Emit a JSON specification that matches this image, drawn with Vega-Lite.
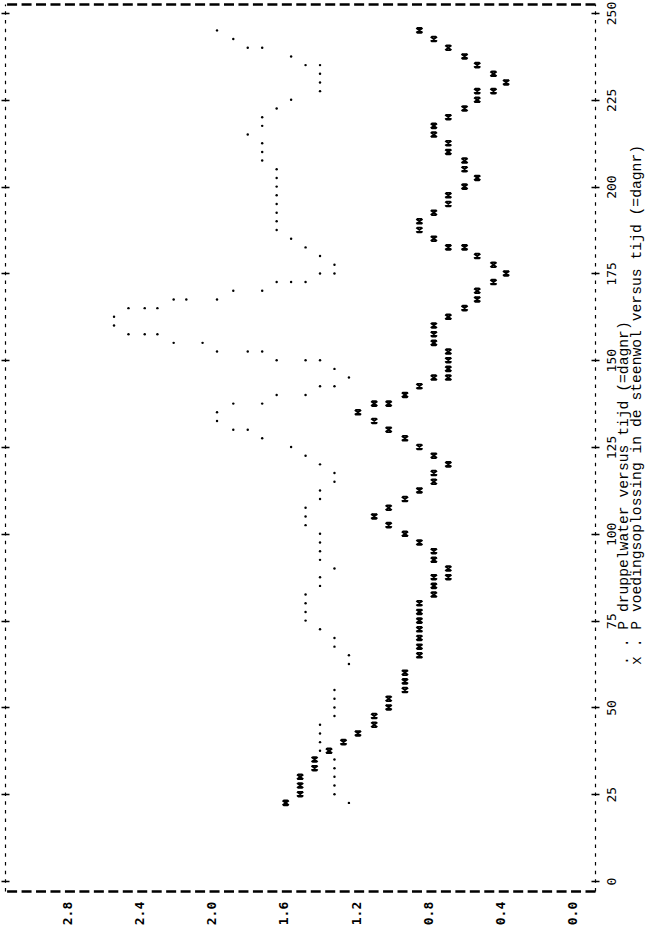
{
  "$schema": "https://vega.github.io/schema/vega-lite/v6.json",
  "width": 590,
  "height": 887,
  "autosize": {"type": "none"},
  "padding": {"left": 5, "top": 4, "right": 51, "bottom": 51},
  "background": "white",
  "config": {"view": {"stroke": null}, "font": "DejaVu Sans Mono"},
  "datasets": {
    "druppelwater": [
      {"dagnr": 22.5, "P": 1.24}, {"dagnr": 25, "P": 1.32}, {"dagnr": 27.5, "P": 1.32}, {"dagnr": 30, "P": 1.32},
      {"dagnr": 32.5, "P": 1.32}, {"dagnr": 35, "P": 1.32}, {"dagnr": 37.5, "P": 1.40}, {"dagnr": 40, "P": 1.40},
      {"dagnr": 42.5, "P": 1.40}, {"dagnr": 45, "P": 1.40}, {"dagnr": 47.5, "P": 1.32}, {"dagnr": 50, "P": 1.32},
      {"dagnr": 52.5, "P": 1.32}, {"dagnr": 55, "P": 1.32}, {"dagnr": 62.5, "P": 1.24}, {"dagnr": 65, "P": 1.24},
      {"dagnr": 67.5, "P": 1.32}, {"dagnr": 70, "P": 1.32}, {"dagnr": 72.5, "P": 1.40}, {"dagnr": 75, "P": 1.48},
      {"dagnr": 77.5, "P": 1.48}, {"dagnr": 80, "P": 1.48}, {"dagnr": 82.5, "P": 1.48}, {"dagnr": 85, "P": 1.40},
      {"dagnr": 87.5, "P": 1.40}, {"dagnr": 90, "P": 1.32}, {"dagnr": 92.5, "P": 1.40}, {"dagnr": 95, "P": 1.40},
      {"dagnr": 97.5, "P": 1.40}, {"dagnr": 100, "P": 1.40}, {"dagnr": 102.5, "P": 1.48}, {"dagnr": 105, "P": 1.48},
      {"dagnr": 107.5, "P": 1.48}, {"dagnr": 110, "P": 1.40}, {"dagnr": 112.5, "P": 1.40}, {"dagnr": 115, "P": 1.32},
      {"dagnr": 117.5, "P": 1.32}, {"dagnr": 120, "P": 1.40}, {"dagnr": 122.5, "P": 1.48}, {"dagnr": 125, "P": 1.56},
      {"dagnr": 127.5, "P": 1.72}, {"dagnr": 130, "P": 1.88}, {"dagnr": 130, "P": 1.80}, {"dagnr": 132.5, "P": 1.97},
      {"dagnr": 135, "P": 1.97}, {"dagnr": 137.5, "P": 1.88}, {"dagnr": 137.5, "P": 1.72}, {"dagnr": 140, "P": 1.64},
      {"dagnr": 140, "P": 1.48}, {"dagnr": 142.5, "P": 1.40}, {"dagnr": 142.5, "P": 1.32}, {"dagnr": 145, "P": 1.24},
      {"dagnr": 147.5, "P": 1.32}, {"dagnr": 150, "P": 1.64}, {"dagnr": 150, "P": 1.48}, {"dagnr": 150, "P": 1.40},
      {"dagnr": 152.5, "P": 1.97}, {"dagnr": 152.5, "P": 1.80}, {"dagnr": 152.5, "P": 1.72}, {"dagnr": 155, "P": 2.21},
      {"dagnr": 155, "P": 2.05}, {"dagnr": 157.5, "P": 2.46}, {"dagnr": 157.5, "P": 2.37}, {"dagnr": 157.5, "P": 2.30},
      {"dagnr": 160, "P": 2.54}, {"dagnr": 162.5, "P": 2.54}, {"dagnr": 165, "P": 2.46}, {"dagnr": 165, "P": 2.37},
      {"dagnr": 165, "P": 2.30}, {"dagnr": 167.5, "P": 2.21}, {"dagnr": 167.5, "P": 2.14}, {"dagnr": 167.5, "P": 1.97},
      {"dagnr": 170, "P": 1.88}, {"dagnr": 170, "P": 1.72}, {"dagnr": 172.5, "P": 1.64}, {"dagnr": 172.5, "P": 1.56},
      {"dagnr": 172.5, "P": 1.48}, {"dagnr": 175, "P": 1.40}, {"dagnr": 175, "P": 1.32}, {"dagnr": 177.5, "P": 1.32},
      {"dagnr": 180, "P": 1.40}, {"dagnr": 182.5, "P": 1.48}, {"dagnr": 185, "P": 1.56}, {"dagnr": 187.5, "P": 1.64},
      {"dagnr": 190, "P": 1.64}, {"dagnr": 192.5, "P": 1.64}, {"dagnr": 195, "P": 1.64}, {"dagnr": 197.5, "P": 1.64},
      {"dagnr": 200, "P": 1.64}, {"dagnr": 202.5, "P": 1.64}, {"dagnr": 205, "P": 1.64}, {"dagnr": 207.5, "P": 1.72},
      {"dagnr": 210, "P": 1.72}, {"dagnr": 212.5, "P": 1.72}, {"dagnr": 215, "P": 1.80}, {"dagnr": 217.5, "P": 1.72},
      {"dagnr": 220, "P": 1.72}, {"dagnr": 222.5, "P": 1.64}, {"dagnr": 225, "P": 1.56}, {"dagnr": 227.5, "P": 1.40},
      {"dagnr": 230, "P": 1.40}, {"dagnr": 232.5, "P": 1.40}, {"dagnr": 235, "P": 1.48}, {"dagnr": 235, "P": 1.40},
      {"dagnr": 237.5, "P": 1.56}, {"dagnr": 240, "P": 1.80}, {"dagnr": 240, "P": 1.72}, {"dagnr": 242.5, "P": 1.88},
      {"dagnr": 245, "P": 1.97}
    ],
    "voeding": [
      {"dagnr": 22.5, "P": 1.59}, {"dagnr": 25, "P": 1.51}, {"dagnr": 27.5, "P": 1.51}, {"dagnr": 30, "P": 1.51},
      {"dagnr": 32.5, "P": 1.43}, {"dagnr": 35, "P": 1.43}, {"dagnr": 37.5, "P": 1.35}, {"dagnr": 40, "P": 1.27},
      {"dagnr": 42.5, "P": 1.19}, {"dagnr": 45, "P": 1.10}, {"dagnr": 47.5, "P": 1.10}, {"dagnr": 50, "P": 1.02},
      {"dagnr": 52.5, "P": 1.02}, {"dagnr": 55, "P": 0.93}, {"dagnr": 57.5, "P": 0.93}, {"dagnr": 60, "P": 0.93},
      {"dagnr": 65, "P": 0.85}, {"dagnr": 67.5, "P": 0.85}, {"dagnr": 70, "P": 0.85}, {"dagnr": 72.5, "P": 0.85},
      {"dagnr": 75, "P": 0.85}, {"dagnr": 77.5, "P": 0.85}, {"dagnr": 80, "P": 0.85}, {"dagnr": 82.5, "P": 0.77},
      {"dagnr": 85, "P": 0.77}, {"dagnr": 87.5, "P": 0.77}, {"dagnr": 87.5, "P": 0.69}, {"dagnr": 90, "P": 0.69},
      {"dagnr": 92.5, "P": 0.77}, {"dagnr": 95, "P": 0.77}, {"dagnr": 97.5, "P": 0.85}, {"dagnr": 100, "P": 0.93},
      {"dagnr": 102.5, "P": 1.02}, {"dagnr": 105, "P": 1.10}, {"dagnr": 107.5, "P": 1.02}, {"dagnr": 110, "P": 0.93},
      {"dagnr": 112.5, "P": 0.85}, {"dagnr": 115, "P": 0.77}, {"dagnr": 117.5, "P": 0.77}, {"dagnr": 120, "P": 0.69},
      {"dagnr": 122.5, "P": 0.77}, {"dagnr": 125, "P": 0.85}, {"dagnr": 127.5, "P": 0.93}, {"dagnr": 130, "P": 1.02},
      {"dagnr": 132.5, "P": 1.10}, {"dagnr": 135, "P": 1.19}, {"dagnr": 137.5, "P": 1.10}, {"dagnr": 137.5, "P": 1.02},
      {"dagnr": 140, "P": 0.93}, {"dagnr": 142.5, "P": 0.85}, {"dagnr": 145, "P": 0.77}, {"dagnr": 145, "P": 0.69},
      {"dagnr": 147.5, "P": 0.69}, {"dagnr": 150, "P": 0.69}, {"dagnr": 152.5, "P": 0.69}, {"dagnr": 155, "P": 0.77},
      {"dagnr": 157.5, "P": 0.77}, {"dagnr": 160, "P": 0.77}, {"dagnr": 162.5, "P": 0.69}, {"dagnr": 165, "P": 0.60},
      {"dagnr": 167.5, "P": 0.53}, {"dagnr": 170, "P": 0.53}, {"dagnr": 172.5, "P": 0.44}, {"dagnr": 175, "P": 0.37},
      {"dagnr": 177.5, "P": 0.44}, {"dagnr": 180, "P": 0.53}, {"dagnr": 182.5, "P": 0.69}, {"dagnr": 182.5, "P": 0.60},
      {"dagnr": 185, "P": 0.77}, {"dagnr": 187.5, "P": 0.85}, {"dagnr": 190, "P": 0.85}, {"dagnr": 192.5, "P": 0.77},
      {"dagnr": 195, "P": 0.69}, {"dagnr": 197.5, "P": 0.69}, {"dagnr": 200, "P": 0.60}, {"dagnr": 202.5, "P": 0.53},
      {"dagnr": 205, "P": 0.60}, {"dagnr": 207.5, "P": 0.60}, {"dagnr": 210, "P": 0.69}, {"dagnr": 212.5, "P": 0.69},
      {"dagnr": 215, "P": 0.77}, {"dagnr": 217.5, "P": 0.77}, {"dagnr": 220, "P": 0.69}, {"dagnr": 222.5, "P": 0.60},
      {"dagnr": 225, "P": 0.53}, {"dagnr": 227.5, "P": 0.53}, {"dagnr": 227.5, "P": 0.44}, {"dagnr": 230, "P": 0.37},
      {"dagnr": 232.5, "P": 0.44}, {"dagnr": 235, "P": 0.53}, {"dagnr": 237.5, "P": 0.60}, {"dagnr": 240, "P": 0.69},
      {"dagnr": 242.5, "P": 0.77}, {"dagnr": 245, "P": 0.85}
    ]
  },
  "layer": [
    {
      "data": {"name": "druppelwater"},
      "mark": {"type": "point", "shape": "circle", "filled": true, "size": 6, "color": "black", "opacity": 1},
      "encoding": {
        "x": {
          "field": "P", "type": "quantitative",
          "scale": {"domain": [-0.1218, 3.1434], "reverse": true, "nice": false, "zero": false},
          "axis": {
            "orient": "bottom", "values": [0, 0.4, 0.8, 1.2, 1.6, 2.0, 2.4, 2.8], "format": ".1f", "title": null,
            "ticks": false, "tickSize": 0, "labelAngle": 270, "labelAlign": "center", "labelBaseline": "middle",
            "labelPadding": 22, "labelFont": "DejaVu Sans Mono", "labelFontSize": 13, "labelFontWeight": "bold",
            "labelColor": "black", "labelOverlap": false, "labelFlush": false, "labelBound": false,
            "domain": true, "domainColor": "black", "domainWidth": 2.5, "domainDash": [10, 4.46], "domainDashOffset": 0,
            "grid": false
          }
        },
        "y": {
          "field": "dagnr", "type": "quantitative",
          "scale": {"domain": [-2.88, 252.6], "nice": false, "zero": false},
          "axis": {
            "orient": "right", "values": [0, 25, 50, 75, 100, 125, 150, 175, 200, 225, 250], "format": "d",
            "title": [". . P druppelwater versus tijd (=dagnr)", "x . P voedingsoplossing in de steenwol versus tijd (=dagnr)"],
            "titleAngle": 270, "titleAlign": "left", "titleBaseline": "middle", "titleX": 28, "titleY": 660.5,
            "titleFont": "Liberation Mono", "titleFontSize": 14.7, "titleFontWeight": "normal", "titleLineHeight": 13.5,
            "titleColor": "black",
            "ticks": true, "tickSize": 4, "tickWidth": 1.5, "tickColor": "black",
            "labelAngle": 270, "labelAlign": "center", "labelBaseline": "middle", "labelPadding": 12,
            "labelFont": "DejaVu Sans Mono", "labelFontSize": 13, "labelColor": "black",
            "labelOverlap": false, "labelFlush": false, "labelBound": false,
            "domain": true, "domainColor": "black", "domainWidth": 1.2, "domainDash": [3.5, 5.18],
            "grid": true, "gridDash": [4, 582, 4], "gridColor": "black", "gridWidth": 1.5, "gridOpacity": 1
          }
        }
      }
    },
    {
      "data": {"name": "voeding"},
      "mark": {"type": "point", "shape": "M-1,-0.75L1,0.75M-1,0.75L1,-0.75M-0.7,-0.75L0.7,-0.75M-0.7,0.75L0.7,0.75", "filled": false, "strokeWidth": 1.8, "size": 40, "color": "black", "opacity": 1},
      "encoding": {
        "x": {
          "field": "P", "type": "quantitative",
          "scale": {"domain": [-0.1218, 3.1434], "reverse": true, "nice": false, "zero": false},
          "axis": {
            "orient": "top", "labels": false, "ticks": false, "title": null,
            "domain": true, "domainColor": "black", "domainWidth": 2.5, "domainDash": [10, 4.46], "grid": false
          }
        },
        "y": {
          "field": "dagnr", "type": "quantitative",
          "scale": {"domain": [-2.88, 252.6], "nice": false, "zero": false},
          "axis": {
            "orient": "left", "values": [0, 25, 50, 75, 100, 125, 150, 175, 200, 225, 250], "labels": false, "title": null,
            "ticks": true, "tickSize": 4, "tickWidth": 1.5, "tickColor": "black",
            "domain": true, "domainColor": "black", "domainWidth": 1.2, "domainDash": [3.5, 5.18], "grid": false
          }
        }
      }
    }
  ],
  "resolve": {"axis": {"x": "independent", "y": "independent"}}
}
